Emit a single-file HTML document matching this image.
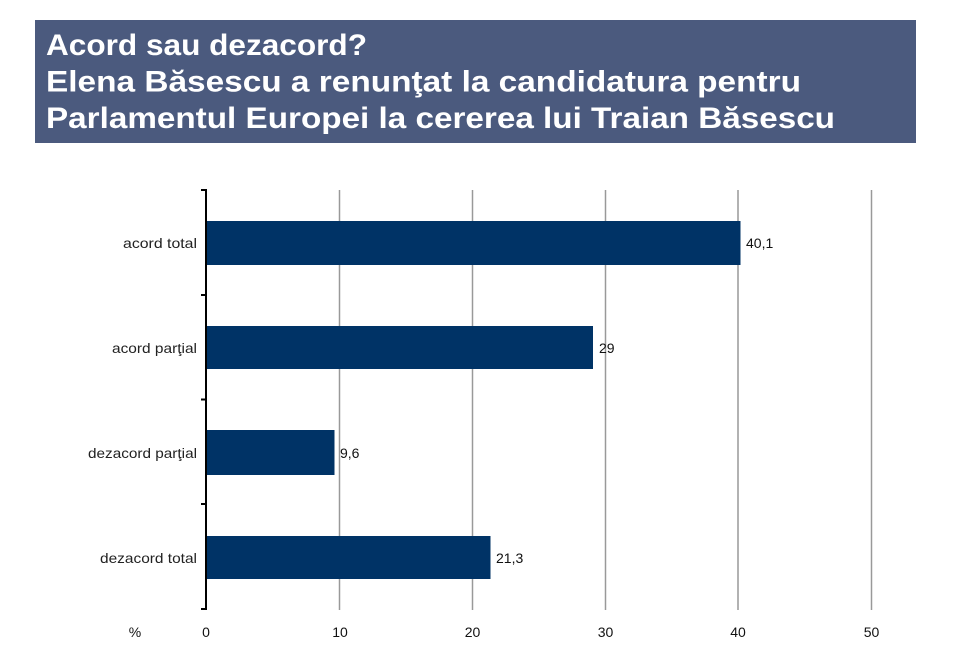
<!DOCTYPE html>
<html>
<head>
<meta charset="utf-8">
<style>
  html, body { margin:0; padding:0; background:#ffffff; }
  svg { display:block; }
  text { font-family: "Liberation Sans", "DejaVu Sans", sans-serif; }
</style>
</head>
<body>
<svg width="970" height="666" viewBox="0 0 970 666" xmlns="http://www.w3.org/2000/svg">
  <rect x="0" y="0" width="970" height="666" fill="#ffffff"/>
  <!-- Title box -->
  <rect x="35" y="20" width="881" height="123" fill="#4b5a7e"/>
  <g fill="#ffffff" font-weight="bold" font-size="30">
    <text x="46" y="55" textLength="321" lengthAdjust="spacingAndGlyphs">Acord sau dezacord?</text>
    <text x="46" y="91.5" textLength="755" lengthAdjust="spacingAndGlyphs">Elena Băsescu a renunţat la candidatura pentru</text>
    <text x="46" y="128" textLength="789" lengthAdjust="spacingAndGlyphs">Parlamentul Europei la cererea lui Traian Băsescu</text>
  </g>

  <!-- Gridlines -->
  <g stroke="#999999" stroke-width="1.5">
    <line x1="339.5" y1="190" x2="339.5" y2="610"/>
    <line x1="472.5" y1="190" x2="472.5" y2="610"/>
    <line x1="605.5" y1="190" x2="605.5" y2="610"/>
    <line x1="738" y1="190" x2="738" y2="610"/>
    <line x1="871.5" y1="190" x2="871.5" y2="610"/>
  </g>

  <!-- Bars -->
  <g fill="#003366">
    <rect x="207" y="221" width="533.5" height="44"/>
    <rect x="207" y="326" width="386" height="43"/>
    <rect x="207" y="430" width="127.5" height="45"/>
    <rect x="207" y="536" width="283.5" height="43"/>
  </g>

  <!-- Axis -->
  <g stroke="#000000" stroke-width="2">
    <line x1="206" y1="189" x2="206" y2="610"/>
    <line x1="201" y1="190" x2="206" y2="190"/>
    <line x1="201" y1="295" x2="206" y2="295"/>
    <line x1="201" y1="399.5" x2="206" y2="399.5"/>
    <line x1="201" y1="504" x2="206" y2="504"/>
    <line x1="201" y1="609" x2="206" y2="609"/>
  </g>

  <!-- Category labels -->
  <g fill="#222222" font-size="14" text-anchor="end">
    <text x="197" y="248" textLength="74" lengthAdjust="spacingAndGlyphs">acord total</text>
    <text x="197" y="353" textLength="85" lengthAdjust="spacingAndGlyphs">acord parţial</text>
    <text x="197" y="458" textLength="109" lengthAdjust="spacingAndGlyphs">dezacord parţial</text>
    <text x="197" y="563" textLength="97" lengthAdjust="spacingAndGlyphs">dezacord total</text>
  </g>

  <!-- Value labels -->
  <g fill="#111111" font-size="14">
    <text x="746" y="248">40,1</text>
    <text x="599" y="353">29</text>
    <text x="340" y="458">9,6</text>
    <text x="496" y="563">21,3</text>
  </g>

  <!-- X tick labels -->
  <g fill="#111111" font-size="14" text-anchor="middle">
    <text x="135" y="637">%</text>
    <text x="206" y="637">0</text>
    <text x="340" y="637">10</text>
    <text x="472.5" y="637">20</text>
    <text x="605.5" y="637">30</text>
    <text x="738" y="637">40</text>
    <text x="871.5" y="637">50</text>
  </g>
</svg>
</body>
</html>
